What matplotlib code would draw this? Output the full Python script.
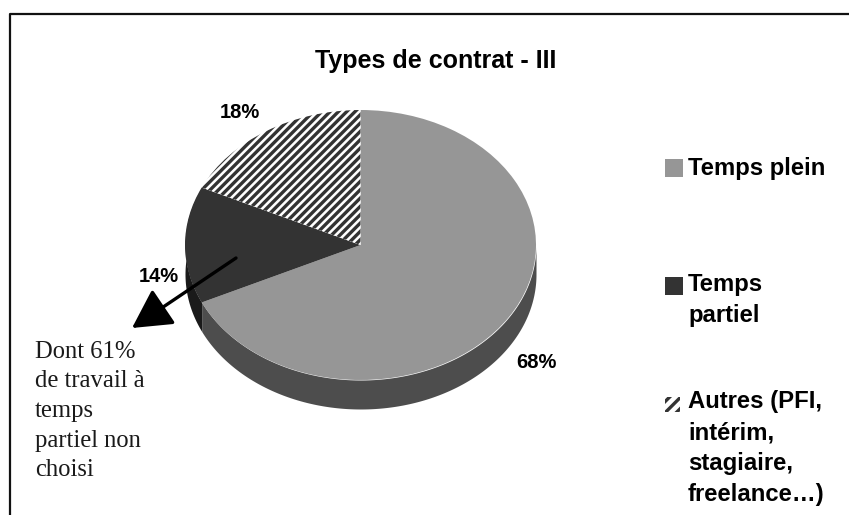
import numpy as np
import matplotlib
matplotlib.use('Agg')
import matplotlib.pyplot as plt
from matplotlib.patches import Rectangle

labels = ['Temps plein', 'Temps\npartiel', 'Autres (PFI,\nintérim,\nstagiaire,\nfreelance…)']
values = [68, 14, 18]
pct_labels = ['68%', '14%', '18%']
top_colors = ['#969696', '#333333', 'white']
side_colors = ['#4d4d4d', '#1a1a1a', 'white']
title = 'Types de contrat - III'
note = 'Dont 61%\nde travail à\ntemps\npartiel non\nchoisi'

W, H = 849, 515
CX, CY, RX, RY, DEPTH = 360.5, 245, 175.5, 135, 29
SANS = 'Liberation Sans'

plt.rcParams['hatch.linewidth'] = 2.4
fig = plt.figure(figsize=(W / 100, H / 100), dpi=100, facecolor='white')

# overlay in pixel coords for frame, text and legend
bg = fig.add_axes([0, 0, 1, 1])
bg.set_xlim(0, W); bg.set_ylim(H, 0); bg.axis('off')
bg.plot([10, 10, W], [H, 14, 14], color='#111111', lw=1.6)

# pie squashed into an ellipse
ax = fig.add_axes([(CX - 1.25 * RX) / W, 1 - (CY + 1.25 * RY) / H,
                   2.5 * RX / W, 2.5 * RY / H])
ax.patch.set_alpha(0)
wedges, _ = ax.pie(values, colors=top_colors, startangle=90, counterclock=False,
                   radius=1, wedgeprops={'linewidth': 0})
ax.set_aspect('auto')
wedges[2].set_hatch('////')
wedges[2].set_edgecolor('#333333')
wedges[2].set_linewidth(0)

# side band of the disc
d = DEPTH / RY
edges = 90 - 3.6 * np.cumsum([0] + values)
for i in range(2):
    th = np.radians(np.linspace(edges[i], edges[i + 1], 300))
    th = th[np.sin(th) <= 0.45] if i == 1 else th[np.sin(th) <= 0]
    x, y = np.cos(th), np.sin(th)
    ax.fill_between(x, y, y - d, color=side_colors[i], lw=0, zorder=0, clip_on=False)

# percent labels
pct_x = [536, 159, 240]
pct_y = [363, 277, 112]
for i in range(3):
    bg.text(pct_x[i], pct_y[i], pct_labels[i], fontsize=14.5, fontweight='bold', family=SANS,
            ha='center', va='center')

bg.text(436, 61, title, fontsize=18, fontweight='bold', family=SANS, ha='center', va='center')

# arrow to the note
bg.annotate('', xy=(132, 328), xytext=(236, 258),
            arrowprops=dict(arrowstyle='-|>,head_length=1.2,head_width=0.65', color='black',
                            lw=2.4, mutation_scale=20, shrinkA=0, shrinkB=0), zorder=5)
bg.set_zorder(3); bg.patch.set_alpha(0)
bg.text(35, 411, note, fontsize=17.7, family='Liberation Serif', color='#1a1a1a',
        ha='left', va='center', linespacing=1.45)

# legend
legend_y = [169, 300, 448]
box_top = [159, 277, 397]
box_size = [18, 18, 15]
for i, lab in enumerate(labels):
    bg.add_patch(Rectangle((665, box_top[i]), box_size[i], box_size[i], facecolor=top_colors[i],
                           edgecolor='#333333' if i == 2 else 'none', lw=0,
                           hatch='///' if i == 2 else None))
    bg.text(688, legend_y[i], lab, fontsize=17.2, fontweight='bold', family=SANS,
            ha='left', va='center', linespacing=1.43)

fig.savefig('out.png', dpi=100)
